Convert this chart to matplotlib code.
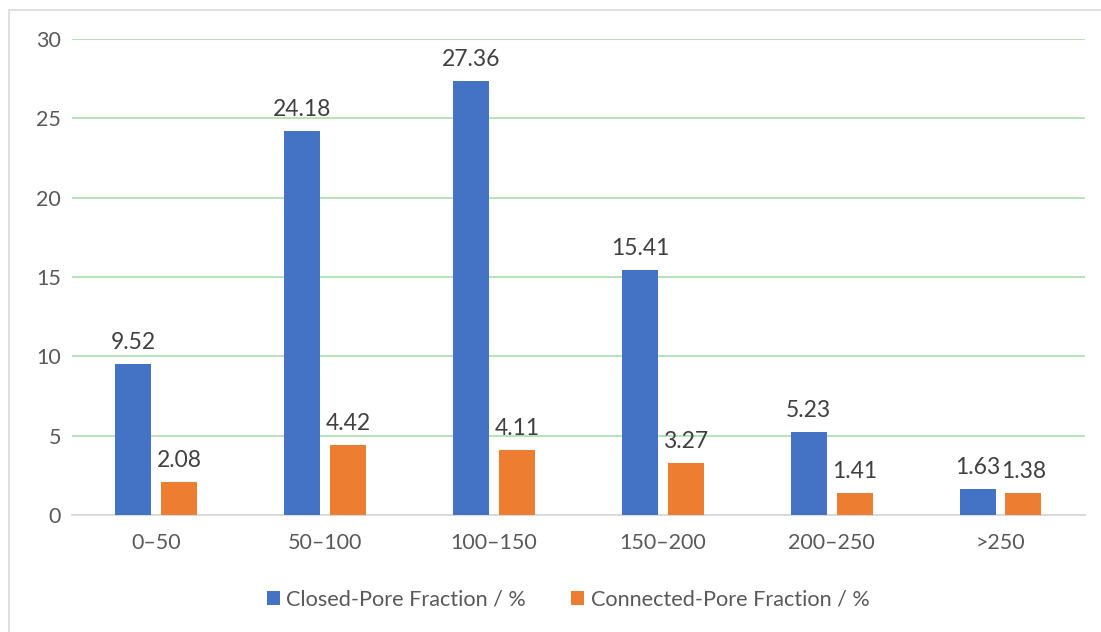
import numpy as np
import matplotlib.pyplot as plt
from matplotlib.patches import Rectangle

# pore size classes and measured fractions
categories = ["0–50", "50–100", "100–150", "150–200", "200–250", ">250"]
closed_pore = [9.52, 24.18, 27.36, 15.41, 5.23, 1.63]
connected_pore = [2.08, 4.42, 4.11, 3.27, 1.41, 1.38]
series_names = ["Closed-Pore Fraction / %", "Connected-Pore Fraction / %"]

plt.rcParams["font.family"] = ["Lato", "DejaVu Sans"]
text_color = "#595959"

fig = plt.figure(figsize=(11.01, 6.32), dpi=100)
ax = fig.add_axes([0.0654, 0.1851, 0.92, 0.7532])

x = np.arange(len(categories))
width = 0.213
offset = 0.136
b1 = ax.bar(x - offset, closed_pore, width, color="#4472C4", label=series_names[0], zorder=3)
b2 = ax.bar(x + offset, connected_pore, width, color="#ED7D31", label=series_names[1], zorder=3)

for bars in (b1, b2):
    ax.bar_label(bars, labels=[f"{v:.2f}" for v in bars.datavalues],
                 padding=8, fontsize=16.5, color="#404040")

ax.set_xlim(-0.5, len(categories) - 0.5)
ax.set_ylim(0, 30)
ax.set_yticks(range(0, 31, 5))
ax.set_xticks(x)
ax.set_xticklabels(categories)
ax.yaxis.grid(True, color="#B0E0B0", linewidth=1.3, zorder=0)
ax.tick_params(axis="both", length=0, labelsize=15.5, colors=text_color)
ax.tick_params(axis="y", pad=8)
ax.tick_params(axis="x", pad=13)

for side in ("top", "right", "left"):
    ax.spines[side].set_visible(False)
ax.spines["bottom"].set_color("#D9D9D9")
ax.spines["bottom"].set_linewidth(1.3)

leg = fig.legend(handles=[b1, b2], loc="center", bbox_to_anchor=(0.516, 0.051),
                 ncol=2, frameon=False, fontsize=15.6, handlelength=0.6,
                 handleheight=0.6, handletextpad=0.3, columnspacing=2.1)
for t in leg.get_texts():
    t.set_color(text_color)

# chart frame
fig.patches.append(Rectangle((9 / 1101, -0.1), 1.2, 1.1 - 10 / 632,
                             transform=fig.transFigure, fill=False,
                             edgecolor="#D9D9D9", linewidth=1.2))

fig.savefig("out.png", dpi=100)
